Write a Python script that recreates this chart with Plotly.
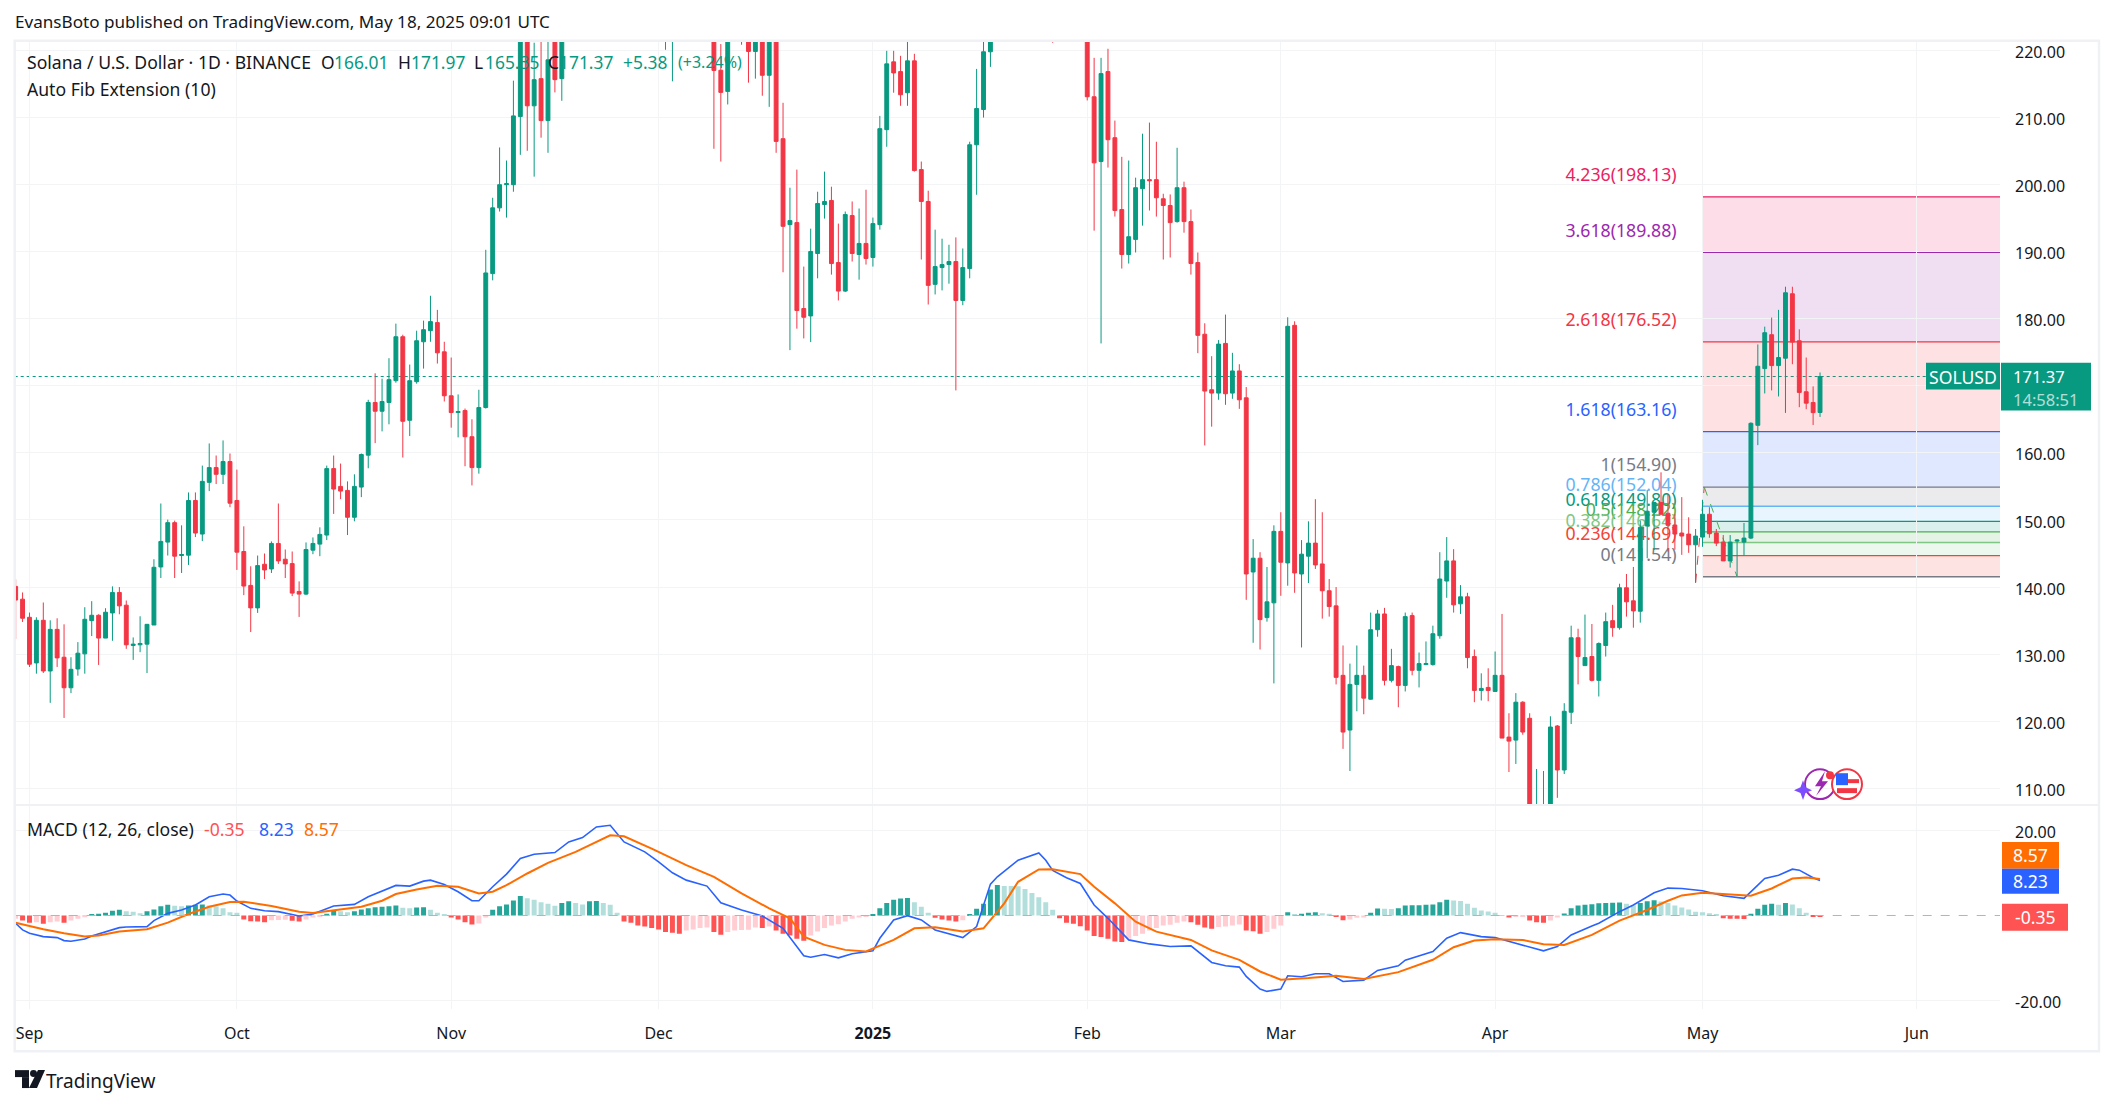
"""Solana / USD daily chart with auto fib extension and MACD pane."""
import pandas as pd
import plotly.graph_objects as go

W, H = 2114, 1108
FONT = 'Noto Sans'
TEXT = '#131722'
UP = '#089981'
DOWN = '#F23645'
GRID = '#F3F4F6'
FRAME = '#EFF1F4'

# ── candles, one per day from 2024-08-30 ─────────────────────────────────────
first_day = '2024-08-30'
open_ = [
    140.1, 138.2, 135.5, 128.7, 135.05, 127.5, 133.7, 129.55, 125.0, 127.8,
    130.05, 135.0, 135.8, 132.4, 136.15, 139.2, 137.3, 131.3, 131.4, 131.5,
    134.35, 143.0, 146.7, 149.6, 144.7, 144.75, 152.9, 147.9, 155.6, 157.8,
    156.8, 158.7, 152.9, 145.3, 140.25, 136.9, 143.4, 142.7, 146.5, 144.15,
    143.5, 139.35, 138.95, 145.5, 146.4, 147.75, 157.65, 155.0, 154.4, 150.4,
    154.9, 159.65, 167.5, 166.2, 167.5, 170.75, 177.3, 164.85, 170.6, 176.55,
    178.2, 179.4, 175.05, 168.5, 166.0, 166.3, 162.4, 157.8, 166.75, 186.7,
    196.5, 199.95, 199.95, 210.1, 222, 211.7, 215.75, 209.5, 223, 215.75,
    224, 238, 236, 238, 256, 258, 254, 247, 234, 228,
    240, 236, 242, 238, 235, 226, 229, 232, 235, 228,
    226, 228, 217.0, 213.85, 232, 230, 226, 219.8, 225, 216.25,
    223, 206.8, 194.0, 194.3, 181.5, 180.4, 189.7, 197.0, 197.6, 188.35,
    184.1, 195.35, 189.55, 191.2, 189.1, 194.0, 208.15, 218.25, 216.8, 213.65,
    218.4, 202.2, 197.45, 185.1, 187.6, 188.05, 188.5, 182.7, 187.45, 205.9,
    211.15, 219.75, 260, 250, 245, 252, 244, 238, 248, 252,
    248, 238, 232, 240, 236, 232, 213.05, 203.4, 216.8, 206.95,
    196.25, 189.55, 191.8, 199.35, 200.7, 200.7, 197.85, 196.85, 194.45, 199.5,
    194.45, 188.35, 177.67, 169.4, 168.9, 176.3, 168.9, 172.2, 168.2, 142.25,
    144.3, 135.45, 137.65, 148.3, 143.6, 179.0, 141.95, 144.6, 146.55, 143.45,
    139.45, 137.2, 126.85, 118.7, 125.5, 126.85, 123.3, 133.65, 136.0, 126.1,
    128.15, 125.35, 135.75, 127.6, 128.45, 128.45, 132.75, 140.9, 143.9, 137.5,
    138.55, 129.65, 124.6, 125.05, 124.45, 126.85, 117.65, 117.2, 122.85, 120.45,
    100, 106, 104, 119.3, 112.75, 121.35, 132.45, 128.3, 129.65, 126.1,
    131.3, 135.0, 133.95, 139.9, 137.95, 136.4, 149.1, 151.15, 152.6, 151.0,
    149.25, 148.05, 147.9, 146.3, 147.45, 150.85, 148.05, 146.7, 143.9, 146.85,
    146.7, 147.3, 164.1, 172.55, 177.6, 173.0, 174.1, 183.7, 176.7, 169.1,
    167.5, 166.01,
]
high = [
    141.15, 139.2, 136.2, 135.5, 137.7, 135.05, 135.35, 134.45, 129.55, 131.8,
    137.0, 137.9, 135.95, 136.85, 140.1, 140.0, 138.0, 132.5, 135.65, 134.45,
    144.15, 152.45, 150.05, 149.9, 149.2, 154.1, 154.1, 158.1, 161.4, 159.6,
    161.85, 159.9, 157.5, 149.05, 143.1, 144.7, 145.0, 146.8, 152.45, 145.6,
    145.3, 140.85, 146.65, 147.4, 148.9, 158.1, 159.6, 158.4, 155.75, 156.8,
    159.9, 167.9, 171.85, 171.05, 174.1, 179.25, 177.6, 173.15, 178.2, 179.7,
    183.4, 181.3, 176.55, 174.2, 168.7, 166.6, 165.0, 169.4, 190.25, 198.0,
    205.5, 203.55, 215.45, 226, 226.5, 221.1, 224, 222, 225, 228,
    240, 247, 242, 257, 264, 262, 258, 250, 238, 243,
    244, 248, 245, 243, 238, 232, 236, 238, 240, 232,
    230, 230, 220.9, 229, 234, 232, 227, 226, 227, 225,
    224, 212.15, 199.5, 202.2, 187.75, 193.4, 198.9, 201.9, 199.65, 194.15,
    195.95, 197.45, 196.4, 199.2, 195.05, 210.2, 219.9, 219.9, 219.15, 221.5,
    219.45, 203.4, 199.05, 193.25, 191.9, 191.0, 192.1, 190.45, 206.35, 217.2,
    222, 263, 295, 262, 258, 260, 256, 252, 258, 262,
    252, 246, 245, 250, 242, 236, 218.85, 218.85, 220.2, 209.5,
    204.1, 203.55, 201.0, 207.55, 209.2, 206.35, 198.6, 198.5, 205.45, 200.4,
    196.25, 189.85, 179.3, 174.4, 176.8, 180.6, 174.9, 173.2, 169.8, 147.15,
    145.2, 143.0, 149.2, 151.15, 180.2, 179.6, 147, 149.8, 153.1, 151.15,
    141.2, 140.0, 131.3, 128.6, 131.3, 128.3, 136.2, 136.6, 136.9, 130.8,
    128.3, 136.2, 136.2, 130.25, 131.9, 134.25, 145.2, 147.45, 145.65, 140.3,
    139.15, 130.7, 127.15, 127.9, 130.4, 136.0, 121.2, 124.2, 123.0, 121.2,
    112.9, 112.6, 120.75, 119.45, 122.7, 134.25, 133.8, 135.9, 134.5, 131.75,
    136.2, 137.35, 140.5, 141.95, 143.0, 149.9, 154.45, 152.7, 157.1, 153.8,
    150.85, 153.4, 150.4, 148.65, 153.0, 151.9, 148.65, 147.75, 147.75, 147.15,
    149.55, 164.55, 176.15, 178.8, 180.15, 181.3, 184.75, 184.75, 178.4, 174.2,
    169.9, 171.97,
]
low = [
    132.27, 134.8, 128.1, 127.1, 127.2, 122.75, 128.1, 120.5, 124.2, 126.8,
    127.1, 132.7, 128.4, 132.4, 132.0, 135.95, 130.8, 129.15, 130.3, 127.2,
    134.35, 141.35, 144.7, 141.35, 142.1, 143.3, 147.45, 146.85, 154.3, 155.35,
    155.35, 151.9, 142.55, 138.8, 133.3, 136.15, 141.2, 142.1, 143.45, 141.35,
    138.65, 135.55, 138.8, 144.9, 144.6, 147.0, 150.9, 153.1, 147.75, 149.8,
    153.4, 157.7, 161.45, 163.2, 164.25, 170.45, 159.3, 162.5, 170.3, 172.55,
    176.55, 173.3, 167.65, 163.75, 162.3, 158.0, 155.15, 156.9, 166.6, 185.7,
    195.95, 195.05, 198.9, 204.4, 205.0, 201.15, 206.95, 204.7, 213.7, 212.45,
    223, 233, 229, 234, 252, 250, 244, 230, 224, 226,
    232, 234, 236, 228, 220.05, 215.35, 224, 226, 225, 222.5,
    222, 205.3, 203.4, 211.9, 224, 220.8, 215.15, 215.75, 213.2, 211.55,
    204.7, 186.9, 175.3, 178.5, 177.05, 176.5, 186.0, 194.9, 186.55, 182.7,
    183.95, 188.5, 185.8, 188.05, 187.75, 193.25, 205.6, 213.65, 211.7, 211.7,
    201.9, 188.8, 182.1, 183.6, 184.2, 185.2, 169.3, 182.0, 186.0, 198.45,
    209.95, 217.5, 235, 232, 236, 240, 228, 230, 242, 244,
    221.1, 225, 228, 232, 226, 212.5, 193.1, 176.3, 202.5, 195.2,
    187.45, 188.2, 189.85, 193.85, 196.1, 195.2, 188.8, 189.1, 194.3, 192.8,
    186.55, 174.85, 161.1, 163.9, 167.9, 167.15, 168.05, 166.55, 138.1, 131.7,
    130.7, 134.85, 125.65, 138.7, 140.2, 139.15, 131.0, 140.6, 142.7, 135.3,
    135.6, 125.5, 115.9, 112.6, 121.5, 121.05, 123.2, 132.6, 125.35, 125.8,
    122.1, 124.45, 126.85, 125.05, 128.45, 128.3, 132.3, 138.4, 136.2, 136.0,
    127.9, 122.85, 123.1, 123.0, 124.45, 117.5, 112.45, 113.65, 118.0, 104,
    95, 100, 100, 108.6, 112.15, 119.6, 125.5, 128.3, 125.95, 123.7,
    129.65, 132.6, 133.65, 135.6, 133.95, 134.7, 144.3, 145.55, 150.75, 145.3,
    145.55, 144.8, 145.1, 140.65, 146.0, 147.35, 146.1, 143.9, 142.9, 141.6,
    144.7, 147.15, 161.15, 168.85, 169.3, 168.4, 165.95, 173.2, 166.8, 166.5,
    164.15, 165.35,
]
close = [
    138.07, 135.35, 128.5, 135.05, 127.5, 133.7, 129.45, 125.0, 127.75, 130.15,
    135.2, 135.8, 132.4, 136.25, 139.2, 137.2, 131.4, 131.5, 131.6, 134.45,
    142.95, 146.8, 149.6, 144.6, 144.85, 152.9, 148.05, 155.75, 157.8, 156.8,
    158.7, 152.5, 145.2, 140.15, 136.9, 143.2, 142.55, 146.5, 143.9, 143.45,
    139.1, 138.95, 145.6, 146.5, 147.85, 157.65, 154.6, 154.3, 150.4, 155.0,
    159.75, 167.5, 166.2, 167.65, 170.9, 177.3, 164.7, 170.75, 176.7, 178.35,
    179.55, 174.9, 168.5, 166.0, 166.15, 162.4, 157.8, 166.75, 186.8, 196.5,
    199.95, 200.1, 210.2, 222, 211.7, 215.6, 209.5, 218.55, 215.6, 224,
    238, 236, 238, 256, 258, 254, 247, 234, 228, 240,
    236, 242, 238, 235, 226, 229, 232, 235, 228, 226,
    228, 216.97, 213.7, 226, 227, 224, 219.8, 225, 216.25, 223,
    206.4, 193.75, 194.6, 181.2, 180.2, 190.0, 197.15, 197.45, 188.2, 184.1,
    195.5, 189.7, 191.2, 188.95, 194.15, 208.3, 217.95, 216.6, 213.35, 218.4,
    202.05, 197.45, 184.95, 187.75, 188.05, 188.5, 182.7, 187.6, 205.9, 211.3,
    219.75, 260, 250, 245, 252, 244, 238, 248, 252, 248,
    238, 232, 240, 236, 232, 213.05, 203.2, 216.5, 206.65, 196.1,
    189.55, 192.2, 199.5, 200.7, 200.55, 198.0, 196.85, 194.3, 199.5, 194.45,
    188.2, 177.5, 169.2, 168.9, 176.2, 168.8, 172.2, 167.9, 141.95, 144.3,
    135.15, 137.8, 148.3, 143.7, 178.85, 142.1, 144.9, 146.55, 143.3, 139.45,
    137.1, 126.55, 118.4, 125.5, 126.85, 123.45, 133.65, 136.0, 126.1, 128.3,
    125.35, 135.6, 127.6, 128.6, 128.6, 133.05, 141.2, 143.9, 137.35, 138.55,
    129.5, 124.6, 124.9, 124.6, 126.85, 117.5, 117.05, 122.85, 118.4, 106,
    106, 104, 119.15, 112.75, 121.5, 132.45, 129.65, 129.5, 126.1, 131.6,
    134.85, 133.95, 139.9, 137.8, 136.45, 148.9, 151.3, 152.6, 150.85, 149.2,
    147.9, 147.6, 146.3, 147.6, 150.85, 147.95, 146.55, 143.9, 146.7, 147.0,
    147.3, 164.4, 172.9, 177.9, 173.0, 174.2, 183.85, 176.5, 169.0, 167.4,
    165.99, 171.37,
]

# ── MACD pane ────────────────────────────────────────────────────────────────
macd_hist = [
    -0.78, -1.17, -1.72, -1.56, -1.95, -1.56, -1.40, -1.72, -1.17, -0.78,
    -0.39, 0.23, 0.39, 0.62, 1.09, 1.33, 1.01, 0.86, 0.55, 1.01,
    1.40, 2.18, 2.50, 2.26, 2.18, 2.34, 2.50, 2.57, 2.34, 2.18,
    1.72, 0.78, 0.62, -0.94, -1.33, -1.40, -1.56, -1.09, -1.05, -1.01,
    -1.25, -1.40, -0.94, -0.47, -0.16, 0.39, 1.09, 1.01, 0.78, 1.01,
    1.40, 1.72, 1.95, 2.03, 2.18, 2.34, 1.79, 1.72, 1.87, 1.95,
    1.33, 0.62, 0.23, -0.47, -0.94, -1.56, -2.11, -1.87, -0.47, 1.33,
    2.18, 2.57, 3.51, 4.60, 4.06, 3.67, 3.12, 2.73, 2.26, 2.96,
    3.35, 2.96, 2.57, 3.35, 3.43, 2.96, 2.50, 0.62, -1.40, -1.72,
    -2.34, -2.57, -2.96, -3.28, -3.90, -4.06, -4.29, -3.51, -3.28, -2.96,
    -2.81, -3.90, -4.52, -3.90, -3.51, -3.43, -3.35, -2.81, -2.96, -2.57,
    -3.51, -4.29, -4.68, -5.46, -5.93, -4.68, -3.74, -2.96, -2.34, -2.03,
    -1.40, -0.78, -0.47, -0.23, 0.31, 1.72, 2.96, 3.67, 3.98, 4.13,
    3.12, 2.03, 0.62, -0.55, -0.94, -1.17, -1.40, -1.09, 0.16, 1.56,
    2.73, 6.08, 7.18, 6.94, 6.93, 6.86, 6.24, 5.30, 4.29, 3.12,
    1.33, -0.62, -1.72, -1.95, -2.50, -3.51, -4.84, -5.07, -5.46, -6.08,
    -6.24, -5.46, -4.84, -4.29, -3.51, -2.96, -2.34, -2.18, -1.72, -1.40,
    -1.56, -2.18, -2.81, -3.12, -2.73, -2.57, -2.34, -2.11, -3.51, -3.67,
    -4.29, -3.90, -3.12, -2.34, 0.78, 0.31, 0.39, 0.62, 0.78, 0.55,
    0.39, -0.23, -1.09, -0.94, -0.55, -0.47, 0.62, 1.64, 1.56, 1.55,
    1.72, 2.34, 2.38, 2.42, 2.50, 2.57, 3.12, 3.67, 3.51, 3.43,
    2.73, 1.79, 1.17, 0.94, 0.62, 0.08, -0.47, -0.23, -0.16, -1.17,
    -1.56, -1.72, -1.17, -0.47, 0.47, 1.72, 2.34, 2.50, 2.65, 2.89,
    2.96, 2.99, 3.04, 2.73, 2.34, 2.96, 3.35, 3.59, 3.28, 2.96,
    2.34, 1.87, 1.40, 0.86, 0.78, 0.55, 0.23, -0.62, -0.78, -0.79,
    -0.80, 0.39, 1.56, 2.50, 2.73, 2.50, 2.96, 2.57, 1.72, 0.62,
    -0.31, -0.35,
]
# lines are read at their visible corners: days counted from 2024-09-01
macd_days = [
    -2, -1, 0, 2, 4, 5, 6, 8, 9, 10, 13, 14, 17, 18, 20, 22, 24, 26, 28, 29,
    30, 32, 34, 36, 39, 41, 44, 47, 49, 53, 55, 57, 58, 60, 62, 64, 65, 67, 69, 71,
    73, 76, 78, 80, 82, 84, 86, 89, 91, 93, 95, 98, 100, 103, 106, 109, 112, 113, 115, 117,
    119, 122, 123, 125, 127, 129, 131, 135, 137, 139, 140, 143, 146, 147, 148, 150, 152, 154, 156, 159,
    162, 165, 168, 171, 173, 175, 176, 178, 179, 181, 182, 184, 186, 188, 190, 193, 195, 198, 199, 203,
    205, 207, 210, 212, 214, 216, 219, 221, 223, 226, 227, 230, 232, 235, 237, 239, 242, 245, 248, 250,
    251, 253, 255, 256, 258, 259,
]
macd_line = [
    -1.83, -3.39, -4.17, -4.95, -5.19, -5.89, -6.04, -5.5, -4.8, -4.33, -2.85, -2.69, -2.61, -1.21, 0.5, 1.29, 2.46, 4.4, 5.03, 4.8,
    3.4, 1.68, 1.13, 0.9, -0.12, 0.35, 2.22, 2.61, 4.4, 7.06, 6.9, 8.07, 8.3, 7.29, 5.58, 3.47, 3.47, 6.74, 9.71, 13.37,
    14.39, 14.78, 17.27, 18.28, 20.78, 21.17, 17.27, 14.93, 12.59, 10.02, 8.3, 6.9, 3.0, 1.29, -0.12, -3.0, -9.47, -9.79, -9.16, -9.94,
    -9.0, -8.3, -5.34, -1.05, -0.04, -1.05, -3.39, -5.19, -2.61, 7.37, 9.08, 12.98, 14.7, 12.98, 10.6, 8.85, 7.52, 2.46, -0.66, -5.73,
    -6.67, -7.29, -7.13, -11.03, -11.81, -12.12, -14.31, -17.27, -17.82, -17.27, -14.15, -14.39, -13.68, -13.68, -15.48, -15.17, -12.9, -11.81, -10.49, -8.46,
    -5.34, -4.02, -4.95, -5.19, -6.12, -7.05, -8.3, -7.29, -4.56, -2.46, -1.83, 0.9, 2.46, 5.34, 6.43, 6.35, 5.81, 4.64, 4.02, 7.13,
    8.69, 9.47, 10.88, 10.64, 8.85, 8.23,
]
signal_days = [
    -2, 2, 5, 8, 10, 13, 17, 20, 23, 26, 29, 31, 35, 39, 41, 45, 48, 51, 53, 56,
    59, 62, 65, 67, 69, 72, 75, 79, 82, 84, 86, 90, 95, 99, 103, 107, 110, 112, 115, 118,
    121, 125, 128, 131, 135, 138, 141, 143, 146, 148, 152, 154, 157, 160, 163, 168, 171, 175, 178, 181,
    185, 189, 193, 198, 203, 206, 209, 212, 216, 219, 222, 226, 230, 234, 237, 239, 242, 246, 249, 252,
    255, 257, 259,
]
signal_line = [
    -1.68, -3.24, -4.17, -4.95, -4.72, -3.78, -3.24, -1.68, 0.35, 2.07, 3.16, 3.24, 2.22, 0.9, 0.58, 1.44, 2.07, 3.47, 5.03, 6.12,
    6.98, 6.74, 5.19, 5.58, 7.13, 9.86, 12.36, 14.93, 17.27, 18.83, 18.6, 15.71, 11.81, 9.08, 5.19, 1.68, -0.66, -4.95, -6.9, -8.07,
    -8.46, -5.73, -3.0, -2.77, -3.78, -3.0, 2.85, 7.91, 10.8, 10.88, 9.71, 6.74, 2.85, -1.44, -3.78, -5.73, -8.2, -10.4, -13.14, -15.08,
    -14.7, -14.15, -14.93, -13.3, -10.4, -7.45, -5.89, -5.58, -5.73, -6.74, -6.9, -4.56, -1.21, 1.29, 3.47, 4.72, 5.34, 5.03, 4.64, 6.35,
    8.69, 8.93, 8.57,
]

# ── fib extension levels ─────────────────────────────────────────────────────
fib_ratio = ['4.236', '3.618', '2.618', '1.618', '1', '0.786', '0.618', '0.5', '0.382', '0.236', '0']
fib_price = [198.13, 189.88, 176.52, 163.16, 154.90, 152.04, 149.80, 148.22, 146.64, 144.69, 141.54]
fib_color = ['#E91E63', '#9C27B0', '#F23645', '#2962FF', '#787B86', '#64B5F6',
             '#089981', '#4CAF50', '#81C784', '#F44336', '#787B86']
fib_fill = ['rgba(233,30,99,0.15)', 'rgba(156,39,176,0.15)', 'rgba(242,54,69,0.15)',
            'rgba(41,98,255,0.15)', 'rgba(120,123,134,0.15)', 'rgba(100,181,246,0.15)',
            'rgba(8,153,129,0.15)', 'rgba(76,175,80,0.15)', 'rgba(129,199,132,0.15)',
            'rgba(244,67,54,0.15)']

# ── axes ─────────────────────────────────────────────────────────────────────
price_ticks = [110, 120, 130, 140, 150, 160, 170, 180, 190, 200, 210, 220]
macd_ticks = [-20, 20]
macd_tick_text = ['-20.00', '20.00']
month_ticks = ['2024-09-01', '2024-10-01', '2024-11-01', '2024-12-01', '2025-01-01',
               '2025-02-01', '2025-03-01', '2025-04-01', '2025-05-01', '2025-06-01']
month_text = ['Sep', 'Oct', 'Nov', 'Dec', '<b>2025</b>', 'Feb', 'Mar', 'Apr', 'May', 'Jun']
x_range = ['2024-08-29 20:40', '2025-06-13 00:45']
price_range = [107.52, 221.38]
macd_range = [-21.96, 25.92]
fib_start = '2025-05-01'
fib_label_x = '2025-04-27 06:00'
last_price = 171.37


def days_to_dates(days):
    return pd.Timestamp('2024-09-01') + pd.to_timedelta(days, unit='D')


def hist_colors(values):
    out = []
    prev = values[0]
    for v in values:
        if v >= 0:
            out.append('#26A69A' if v >= prev else '#B2DFDB')
        else:
            out.append('#FFCDD2' if v >= prev else '#FF5252')
        prev = v
    return out


assert len(open_) == len(high) == len(low) == len(close) == len(macd_hist) == 262
assert len(macd_days) == len(macd_line) and len(signal_days) == len(signal_line)
dates = pd.date_range(first_day, periods=len(close))

fig = go.Figure()

# labels go on the lower y axis so the candles cover them
fig.add_trace(go.Scatter(
    x=[fib_label_x] * len(fib_price),
    y=[p + 3.0 for p in fib_price],
    text=[f'{r}({p:.2f})' for r, p in zip(fib_ratio, fib_price)],
    mode='text',
    textposition='middle left',
    textfont=dict(family=FONT, size=17.7, color=fib_color),
    xaxis='x', yaxis='y', hoverinfo='skip',
))
fig.add_trace(go.Scatter(
    x=['2025-04-30', '2025-05-01 06:00'], y=[140.65, 154.9],
    mode='lines', line=dict(color='#F23645', width=1, dash='dash'),
    xaxis='x', yaxis='y', hoverinfo='skip',
))
fig.add_trace(go.Scatter(
    x=['2025-05-01 06:00', '2025-05-06'], y=[154.9, 141.54],
    mode='lines', line=dict(color='#4CAF50', width=1, dash='dash'),
    xaxis='x', yaxis='y', hoverinfo='skip',
))
fig.add_trace(go.Candlestick(
    x=dates, open=open_, high=high, low=low, close=close,
    increasing=dict(line=dict(color=UP, width=1), fillcolor=UP),
    decreasing=dict(line=dict(color=DOWN, width=1), fillcolor=DOWN),
    whiskerwidth=0,
    xaxis='x', yaxis='y3',
))
fig.add_trace(go.Bar(
    x=dates, y=macd_hist, marker_color=hist_colors(macd_hist), marker_line_width=0,
    width=0.72 * 86400000, xaxis='x', yaxis='y2',
))
fig.add_trace(go.Scatter(
    x=days_to_dates(macd_days), y=macd_line, mode='lines',
    line=dict(color='#2962FF', width=1.6), xaxis='x', yaxis='y2',
))
fig.add_trace(go.Scatter(
    x=days_to_dates(signal_days), y=signal_line, mode='lines',
    line=dict(color='#FF6D00', width=2), xaxis='x', yaxis='y2',
))

shapes = []
# fib bands and their level lines
for i, fill in enumerate(fib_fill):
    shapes.append(dict(type='rect', xref='x', yref='y', x0=fib_start, x1=x_range[1],
                       y0=fib_price[i + 1], y1=fib_price[i], fillcolor=fill,
                       line_width=0, layer='below'))
for p, c in zip(fib_price, fib_color):
    shapes.append(dict(type='line', xref='x', yref='y', x0=fib_start, x1=x_range[1],
                       y0=p, y1=p, line=dict(color=c, width=1.3), layer='below'))
# last price and zero lines
shapes.append(dict(type='line', xref='paper', yref='y', x0=14.7 / W, x1=1926 / W,
                   y0=last_price, y1=last_price, layer='below',
                   line=dict(color=UP, width=1, dash='dot')))
shapes.append(dict(type='line', xref='paper', yref='y2', x0=14.7 / W, x1=2000 / W,
                   y0=0, y1=0, line=dict(color='#B2B5BE', width=1, dash='dash')))


def px_rect(x0, y0, x1, y1, fill, line=None, radius=False):
    shapes.append(dict(type='circle' if radius else 'rect', xref='paper', yref='paper',
                       x0=x0 / W, x1=x1 / W, y0=1 - y0 / H, y1=1 - y1 / H,
                       fillcolor=fill, line=line or dict(width=0)))


def px_path(points, fill):
    d = 'M' + ' L'.join(f'{x / W:.5f},{1 - y / H:.5f}' for x, y in points) + ' Z'
    shapes.append(dict(type='path', xref='paper', yref='paper', path=d,
                       fillcolor=fill, line_width=0))


# chart frame and pane divider
px_rect(14.7, 41, 2099, 1055, 'rgba(0,0,0,0)', dict(color=FRAME, width=2.5))
shapes.append(dict(type='line', xref='paper', yref='paper', x0=14.7 / W, x1=2099 / W,
                   y0=1 - 808 / H, y1=1 - 808 / H, line=dict(color=FRAME, width=2)))

# price and MACD tags on the axis
px_rect(1926, 364, 2000, 391, UP)
px_rect(2001, 364, 2091, 412, UP)
px_rect(2002, 845, 2059, 872, '#FF6D00')
px_rect(2002, 872, 2059, 897, '#2962FF')
px_rect(2002, 907, 2068, 934, '#FF5252')

# small badges near the bottom of the price pane
px_rect(1805, 772, 1835, 802, 'rgba(0,0,0,0)', dict(color='#9C27B0', width=2), radius=True)
px_path([(1825, 774), (1815, 789), (1821, 789), (1816, 799), (1828, 784), (1822, 784)], '#9C27B0')
px_path([(1803, 783), (1805.5, 790), (1812, 793), (1805.5, 796), (1803, 803),
         (1800.5, 796), (1794, 793), (1800.5, 790)], '#7C4DFF')
px_rect(1832, 772, 1862, 802, '#FFFFFF', dict(color='#F23645', width=2), radius=True)
px_rect(1836, 776, 1848, 788, '#2962FF')
px_rect(1848, 782, 1859, 786, '#F23645')
px_rect(1837, 791, 1857, 796, '#F23645')
px_rect(1826, 774, 1834, 782, '#F23645', radius=True)

# TradingView mark
px_rect(15, 1074, 29, 1081, '#131722')
px_rect(22, 1081, 29, 1092, '#131722')
px_rect(30, 1074, 37, 1081, '#131722', radius=True)
px_path([(38, 1074), (45, 1074), (37, 1092), (29, 1092)], '#131722')

notes = []


def note(x, y, text, color=TEXT, size=17.6, anchor='left'):
    # annotations carry a little padding, take it back off left-aligned text
    if anchor == 'left':
        x -= 2
    notes.append(dict(xref='paper', yref='paper', x=x / W, y=1 - y / H, text=text,
                      showarrow=False, xanchor=anchor, yanchor='middle',
                      font=dict(family=FONT, size=size, color=color)))


note(14.5, 21.5, 'EvansBoto published on TradingView.com, May 18, 2025 09:01 UTC', size=17.1)
note(27, 62.5, 'Solana / U.S. Dollar · 1D · BINANCE')
for x, label, c in [(321, 'O', TEXT), (334, '166.01', UP), (398, 'H', TEXT), (411, '171.97', UP),
                    (474, 'L', TEXT), (485, '165.35', UP), (548, 'C', TEXT), (559, '171.37', UP),
                    (623, '+5.38', UP)]:
    note(x, 62.5, label, c, 17.4)
note(678, 62.5, '(+3.24%)', UP, 16)
note(27, 89, 'Auto Fib Extension (10)')
note(27, 832.5, 'MACD (12, 26, close)')
note(204, 832.5, '-0.35', '#FF5252')
note(259, 832.5, '8.23', '#2962FF')
note(304, 832.5, '8.57', '#FF6D00')
note(1963, 378, 'SOLUSD', '#FFFFFF', anchor='center')
note(2013, 378, '171.37', '#FFFFFF', 16.5)
note(2013, 401, '14:58:51', 'rgba(255,255,255,0.7)', 16.5)
note(2030, 858, '8.57', '#FFFFFF', anchor='center')
note(2030, 884, '8.23', '#FFFFFF', anchor='center')
note(2035, 920, '-0.35', '#FFFFFF', anchor='center')
note(46, 1084.5, 'TradingView', TEXT, 19)

axis_font = dict(family=FONT, size=16, color=TEXT)
fig.update_layout(
    width=W, height=H, autosize=False,
    margin=dict(l=0, r=0, t=0, b=0),
    paper_bgcolor='white', plot_bgcolor='white',
    showlegend=False,
    barmode='overlay',
    boxgap=0.2,
    shapes=shapes,
    annotations=notes,
    xaxis=dict(
        domain=[14.7 / W, 2000 / W], range=x_range, type='date', anchor='y2',
        tickmode='array', tickvals=month_ticks, ticktext=month_text,
        showgrid=True, gridcolor=GRID, gridwidth=1, zeroline=False, showline=False,
        ticks='', tickfont=axis_font, ticklabelstandoff=13, tickangle=0,
        rangeslider=dict(visible=False),
    ),
    yaxis=dict(
        domain=[1 - 808 / H, 1 - 41 / H], range=price_range, anchor='x', side='right',
        tickmode='array', tickvals=price_ticks, ticktext=[f'{t:.2f}' for t in price_ticks],
        showgrid=True, gridcolor=GRID, zeroline=False, showline=False, ticks='',
        tickfont=axis_font, ticklabelstandoff=14, ticklabelshift=2,
    ),
    yaxis2=dict(
        domain=[1 - 1012.7 / H, 1 - 808 / H], range=macd_range, anchor='x', side='right',
        tickmode='array', tickvals=macd_ticks, ticktext=macd_tick_text,
        showgrid=True, gridcolor=GRID, zeroline=False, showline=False, ticks='',
        tickfont=axis_font, ticklabelstandoff=14, ticklabelshift=2,
    ),
    yaxis3=dict(
        range=price_range, overlaying='y', anchor='x', side='right', visible=False,
        showgrid=False, zeroline=False,
    ),
)

fig.write_html('out.html', config=dict(displayModeBar=False),
               post_script="document.body.style.margin='0';")
